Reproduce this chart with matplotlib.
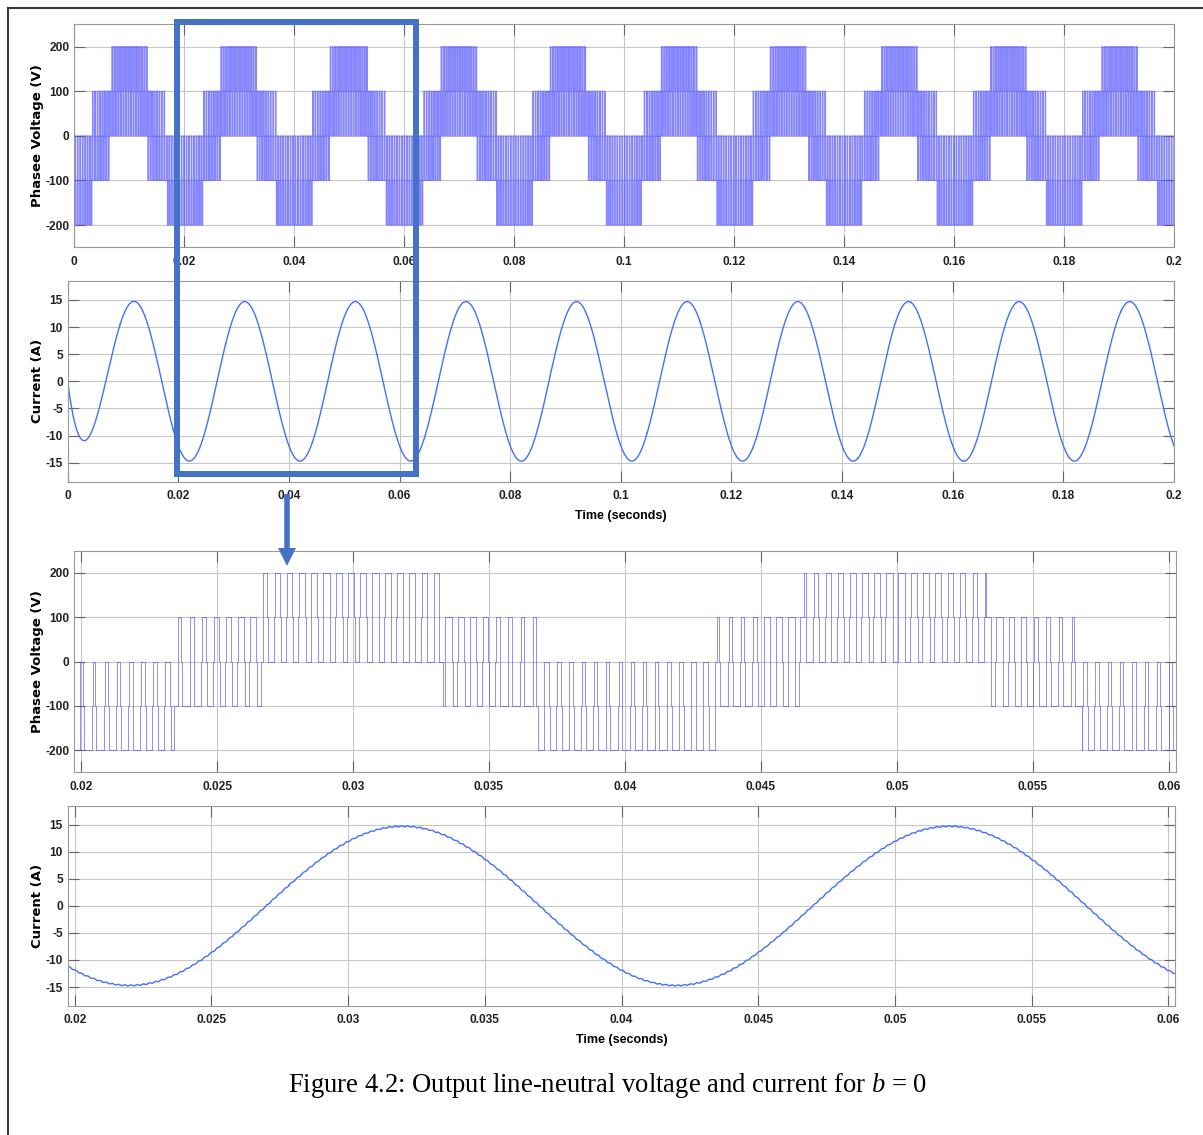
import numpy as np
import matplotlib
matplotlib.use("Agg")
import matplotlib.pyplot as plt
from matplotlib.patches import Rectangle, FancyArrow
from matplotlib.lines import Line2D

plt.rcParams['agg.path.chunksize'] = 10000
plt.rcParams['axes.unicode_minus'] = False
plt.rcParams['mathtext.fontset'] = 'custom'
plt.rcParams['mathtext.rm'] = 'Liberation Serif'
plt.rcParams['mathtext.it'] = 'Liberation Serif:italic'

# ---- values ----
period = 0.02                       # 50 Hz output
window_starts = [0.0034, 0.0066, 0.0133, 0.0168]   # switching windows in one period
window_bases = [-100, 0, -100, -200]                # lowest level used in each window
level_step = 100
carrier_period = 0.00045
ref_peak = 160.0
ref_peak_time = 0.00995

current_amp = 14.7
current_peak_time = 0.012
current_tau = 0.0022
ripple_amp = 0.12
ripple_period = 0.000225

full_xticks = [0, 0.02, 0.04, 0.06, 0.08, 0.1, 0.12, 0.14, 0.16, 0.18, 0.2]
full_xlabels = ['0', '0.02', '0.04', '0.06', '0.08', '0.1', '0.12', '0.14', '0.16', '0.18', '0.2']
zoom_xticks = [0.02, 0.025, 0.03, 0.035, 0.04, 0.045, 0.05, 0.055, 0.06]
zoom_xlabels = ['0.02', '0.025', '0.03', '0.035', '0.04', '0.045', '0.05', '0.055', '0.06']
volt_yticks = [-200, -100, 0, 100, 200]
curr_yticks = [-15, -10, -5, 0, 5, 10, 15]
zoom_range = (0.01974, 0.06026)

# ---- waveforms ----
t = np.arange(0, 0.2 + 1e-6, 1e-6)
tp = np.mod(t, period)
idx = np.searchsorted(window_starts, tp, side='right') - 1
base = np.array(window_bases)[idx]
vref = ref_peak * np.cos(2 * np.pi * (t - ref_peak_time) / period)
u = np.clip((vref - base - level_step) / level_step, -1, 1)
duty_a = 0.5 + 0.25 * u
duty_b = np.clip(duty_a - 0.12, 0.06, 0.9)


def tri(x):
    return np.abs(2 * np.mod(x, 1) - 1)


carrier = tri(t / carrier_period)
volt = base + level_step * ((duty_a > carrier).astype(int) + (duty_b > carrier).astype(int))
keep = np.r_[0, np.flatnonzero(np.diff(volt)) + 1, len(t) - 1]

w = 2 * np.pi / period
i0 = current_amp * np.cos(w * (0 - current_peak_time))
current = current_amp * np.cos(w * (t - current_peak_time)) - i0 * np.exp(-t / current_tau)
current_zoom = current + ripple_amp * (2 * tri(t / ripple_period) - 1)

# ---- figure ----
W, H = 1203, 1135
fig = plt.figure(figsize=(W / 100, H / 100), dpi=100)


def box(l, r, top, bot):
    return [l / W, 1 - bot / H, (r - l) / W, (bot - top) / H]


ax1 = fig.add_axes(box(74, 1174, 24.3, 247.3))
ax2 = fig.add_axes(box(67.7, 1174, 281, 481.7))
ax3 = fig.add_axes(box(74, 1175.7, 550.7, 772.3))
ax4 = fig.add_axes(box(67.7, 1175.3, 805.7, 1006))

vcol = '#4646ff'
icol = '#3f72f6'
ax1.step(t[keep], volt[keep], where='post', color='#5050ff', lw=0.85, alpha=0.7)
ax3.step(t[keep], volt[keep], where='post', color=vcol, lw=0.6, alpha=0.7)
ax2.plot(t, current, color=icol, lw=1.0)
ax4.plot(t, current_zoom, color=icol, lw=1.0)

for ax in (ax1, ax3):
    ax.set_ylim(-250, 250)
    ax.set_yticks(volt_yticks)
    ax.set_ylabel('Phasee Voltage (V)', family='DejaVu Sans', weight='bold', fontsize=9.5)
for ax in (ax2, ax4):
    ax.set_ylim(-18.5, 18.5)
    ax.set_yticks(curr_yticks)
    ax.set_ylabel('Current (A)', family='DejaVu Sans', weight='bold', fontsize=9.5)
    ax.set_xlabel('Time (seconds)', family='Liberation Sans', weight='bold', fontsize=9)
for ax in (ax1, ax2):
    ax.set_xlim(0, 0.2)
    ax.set_xticks(full_xticks)
    ax.set_xticklabels(full_xlabels)
for ax in (ax3, ax4):
    ax.set_xlim(*zoom_range)
    ax.set_xticks(zoom_xticks)
    ax.set_xticklabels(zoom_xlabels)

for ax in (ax1, ax2, ax3, ax4):
    ax.grid(True, color='#c6c6c6', lw=0.8)
    ax.set_axisbelow(True)
    ax.tick_params(direction='in', length=8, width=0.8, color='#666666',
                   top=True, right=True, labelsize=8.6)
    ax.tick_params(axis='x', pad=6)
    ax.tick_params(axis='y', pad=3.4)
    for lab in ax.get_xticklabels() + ax.get_yticklabels():
        lab.set_family('Liberation Sans')
        lab.set_weight('bold')
        lab.set_color('#222222')
    for s in ax.spines.values():
        s.set_color('#999999')
        s.set_linewidth(0.8)

ax1.yaxis.set_label_coords((44 - 74) / 1100, 0.5)
ax3.yaxis.set_label_coords((44 - 74) / 1101.7, 0.5)
ax2.yaxis.set_label_coords((44 - 67.7) / 1106.3, 0.5)
ax4.yaxis.set_label_coords((44 - 67.7) / 1107.6, 0.5)
ax2.xaxis.set_label_coords(0.5, (482 - 510) / 200.7)
ax4.xaxis.set_label_coords(0.5, (1006 - 1034) / 200.3)

# ---- overlay: page frame, highlight box, arrow, caption ----
ov = fig.add_axes([0, 0, 1, 1], zorder=10)
ov.set_xlim(0, W)
ov.set_ylim(H, 0)
ov.axis('off')
ov.add_line(Line2D([8, 8], [8, H], color='#3a3a3a', lw=1.5))
ov.add_line(Line2D([8, W], [8, 8], color='#3a3a3a', lw=1.5))
ov.add_patch(Rectangle((177, 22), 416 - 177, 474 - 22, fill=False,
                       edgecolor='#4472C4', lw=4.3))
ov.add_patch(FancyArrow(287, 494, 0, 72, width=5.5, head_width=18, head_length=18,
                        length_includes_head=True, color='#4472C4', lw=0))
ov.text(608, 1085, r'Figure 4.2: Output line-neutral voltage and current for $b$ = 0',
        family='Liberation Serif', fontsize=19.2, ha='center', va='center')

fig.savefig('out.png', dpi=100)
